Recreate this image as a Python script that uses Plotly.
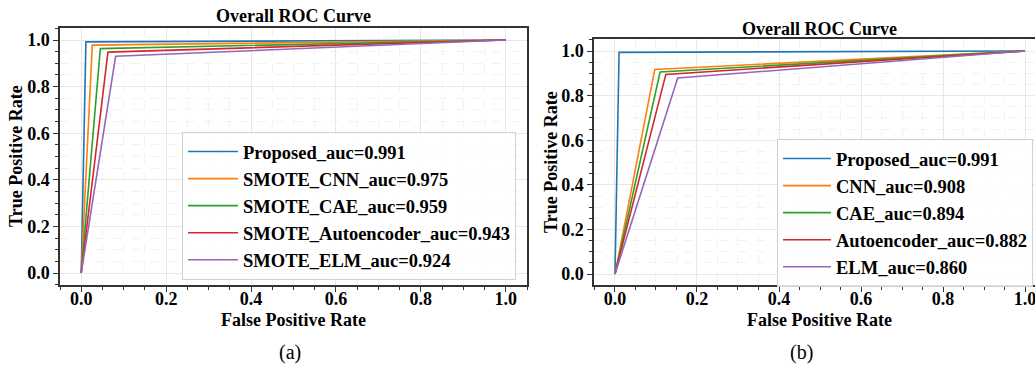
import plotly.graph_objects as go

# ---------------- data ----------------
left_names = ["Proposed_auc=0.991", "SMOTE_CNN_auc=0.975", "SMOTE_CAE_auc=0.959",
              "SMOTE_Autoencoder_auc=0.943", "SMOTE_ELM_auc=0.924"]
left_fpr = [[0, 0.011, 1], [0, 0.026, 1], [0, 0.045, 1], [0, 0.063, 1], [0, 0.081, 1]]
left_tpr = [[0, 0.992, 1], [0, 0.978, 1], [0, 0.963, 1], [0, 0.948, 1], [0, 0.930, 1]]

right_names = ["Proposed_auc=0.991", "CNN_auc=0.908", "CAE_auc=0.894",
               "Autoencoder_auc=0.882", "ELM_auc=0.860"]
right_fpr = [[0, 0.010, 1], [0, 0.097, 1], [0, 0.110, 1], [0, 0.124, 1], [0, 0.153, 1]]
right_tpr = [[0, 0.994, 1], [0, 0.917, 1], [0, 0.906, 1], [0, 0.895, 1], [0, 0.879, 1]]

colors = ["#1f77b4", "#ff7f0e", "#2ca02c", "#d62728", "#9467bd"]
tick_vals = [0.0, 0.2, 0.4, 0.6, 0.8, 1.0]
tick_text = ["0.0", "0.2", "0.4", "0.6", "0.8", "1.0"]

W, H = 1035, 367
FONT = "Liberation Serif, Times New Roman, serif"

fig = go.Figure()
for i in range(5):
    fig.add_trace(go.Scatter(x=left_fpr[i], y=left_tpr[i], mode="lines", name=left_names[i],
                             line=dict(color=colors[i], width=1.6), xaxis="x", yaxis="y",
                             legend="legend"))
for i in range(5):
    fig.add_trace(go.Scatter(x=right_fpr[i], y=right_tpr[i], mode="lines", name=right_names[i],
                             line=dict(color=colors[i], width=1.6), xaxis="x2", yaxis="y2",
                             legend="legend2"))

def px_x(p):
    return p / W

def px_y(p):
    return (H - p) / H

axis_common = dict(
    tickvals=tick_vals, ticktext=tick_text,
    tickfont=dict(family=FONT, size=18, color="black", weight="bold"),
    showgrid=True, gridcolor="#e8e8e8", gridwidth=1,
    minor=dict(dtick=0.05, tick0=0, showgrid=True, gridcolor="#f2f2f2", griddash="dash",
               ticks="outside", ticklen=3, tickcolor="#333", gridwidth=1),
    ticks="outside", ticklen=5, tickcolor="#333", tickwidth=1,
    showline=True, linecolor="#333", linewidth=1.5, mirror=True,
    zeroline=False, ticklabeloverflow="allow",
)

leg_font = dict(family=FONT, size=18.5, color="black", weight="bold")
fig.update_layout(
    width=W, height=H,
    margin=dict(l=0, r=0, t=0, b=0, autoexpand=False),
    paper_bgcolor="white", plot_bgcolor="white",
    font=dict(family=FONT, color="black"),
    xaxis=dict(domain=[px_x(60), px_x(527)], range=[-0.05, 1.05], anchor="y",
               ticklabelstandoff=-8, **axis_common),
    yaxis=dict(domain=[px_y(285), px_y(28)], range=[-0.0515, 1.0515], anchor="x", **axis_common),
    xaxis2=dict(domain=[px_x(594), 1.0], range=[-0.0512, (W - 615) / 410], anchor="y2",
                ticklabelstandoff=-8, **axis_common),
    yaxis2=dict(domain=[px_y(285), px_y(39)], range=[-0.049, 1.0538], anchor="x2", **axis_common),
    legend=dict(x=px_x(182), y=px_y(132), xanchor="left", yanchor="top", itemwidth=50,
                bgcolor="rgba(255,255,255,0.85)", bordercolor="#d0d0d0", borderwidth=1,
                font=leg_font),
    legend2=dict(x=px_x(1033), y=px_y(139), xanchor="right", yanchor="top", itemwidth=48,
                 bgcolor="rgba(255,255,255,0.85)", bordercolor="#d0d0d0", borderwidth=1,
                 font=leg_font),
    showlegend=True,
)

bold = dict(family=FONT, size=18, color="black", weight="bold")
ann = [
    dict(text="Overall ROC Curve", x=px_x(293), y=px_y(16), font=bold),
    dict(text="Overall ROC Curve", x=px_x(819), y=px_y(29), font=bold),
    dict(text="False Positive Rate", x=px_x(293), y=px_y(320), font=bold),
    dict(text="False Positive Rate", x=px_x(819), y=px_y(320), font=bold),
    dict(text="True Positive Rate", x=px_x(16), y=px_y(156), font=bold, textangle=-90),
    dict(text="True Positive Rate", x=px_x(551), y=px_y(162), font=bold, textangle=-90),
    dict(text="(a)", x=px_x(290), y=px_y(352), font=dict(family=FONT, size=20, color="black")),
    dict(text="(b)", x=px_x(801), y=px_y(352), font=dict(family=FONT, size=20, color="black")),
]
for a in ann:
    a.update(xref="paper", yref="paper", showarrow=False, xanchor="center", yanchor="middle")
fig.update_layout(annotations=ann)

fig.write_html("out.html", config={"displayModeBar": False},
               post_script="document.body.style.margin='0px';document.body.style.overflow='hidden';")
